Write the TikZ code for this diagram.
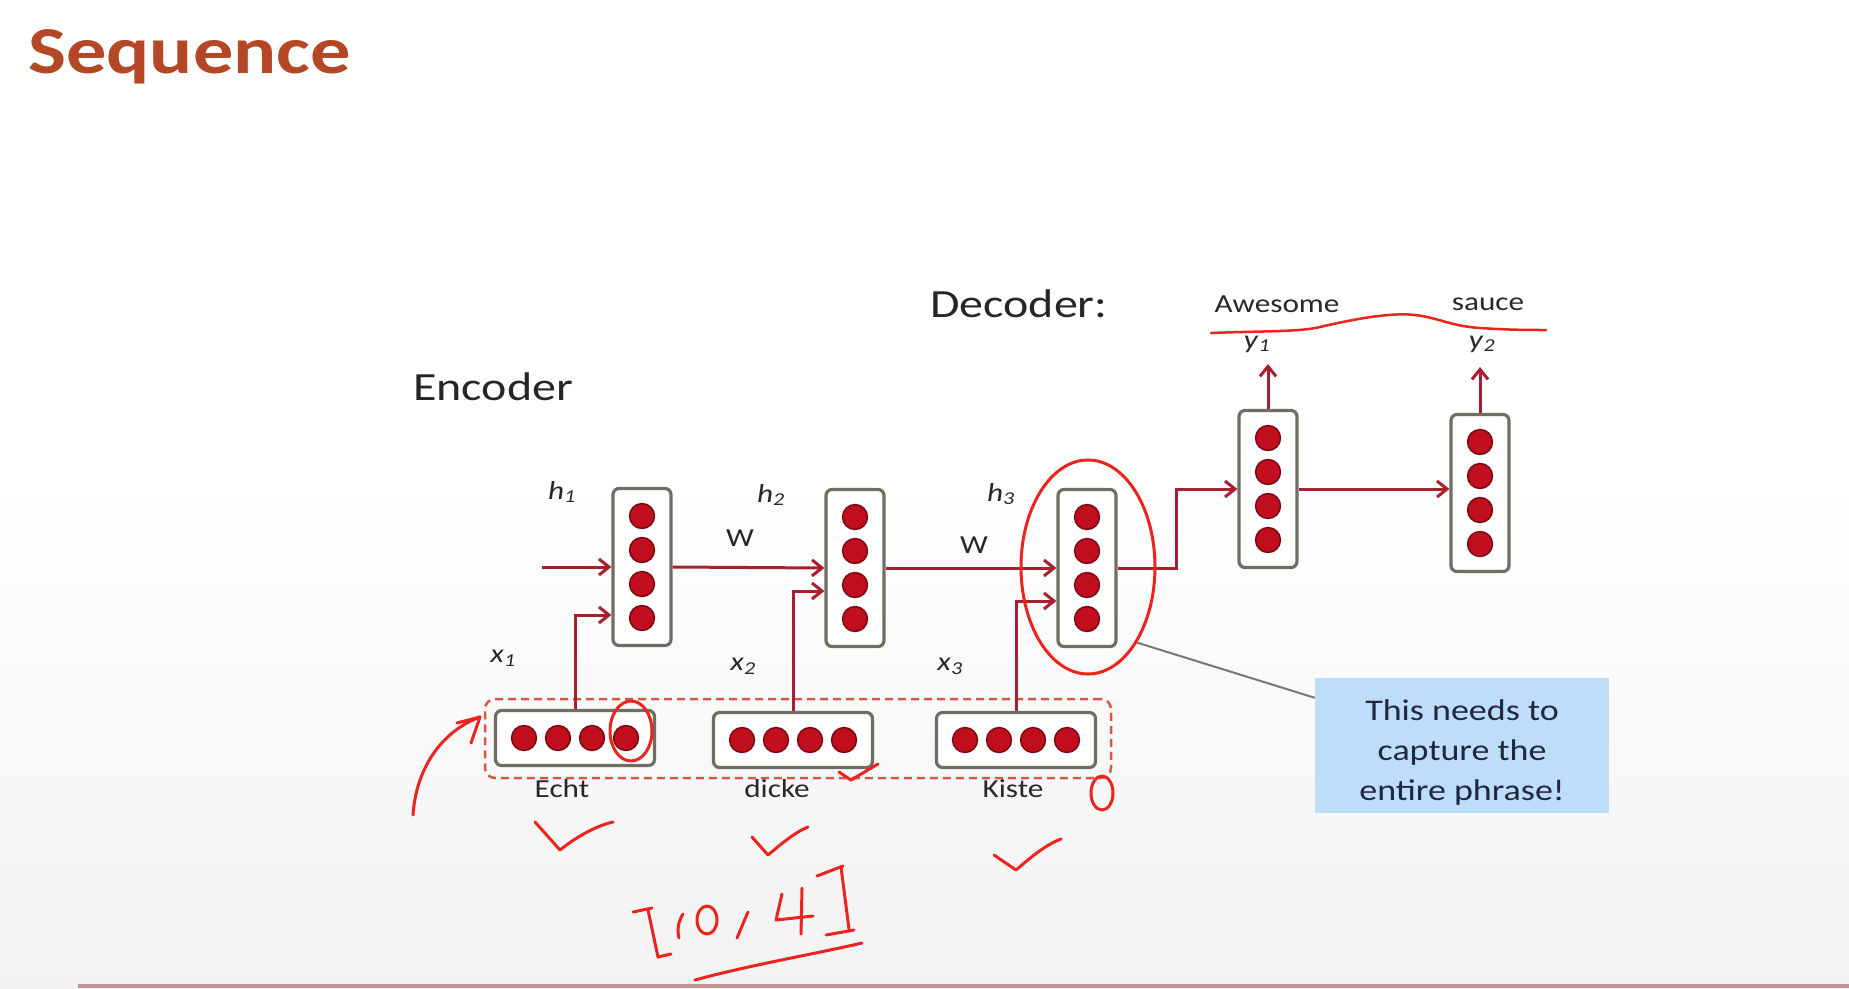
\documentclass[tikz,border=0pt]{standalone}
\usepackage{fontspec}
\setmainfont{Carlito}[FakeStretch=1.2]
\usetikzlibrary{arrows.meta,calc,shapes.geometric}
\definecolor{titlecol}{RGB}{179,71,38}
\definecolor{boxborder}{RGB}{112,110,98}
\definecolor{dotfill}{RGB}{192,14,30}
\definecolor{dotdraw}{RGB}{115,10,18}
\definecolor{arrowcol}{RGB}{168,32,46}
\definecolor{inkred}{RGB}{236,36,30}
\definecolor{callfill}{RGB}{190,221,250}
\definecolor{calltext}{RGB}{30,40,62}
\definecolor{labelcol}{RGB}{40,40,40}
\definecolor{dashcol}{RGB}{215,88,72}
\definecolor{bottomcol}{RGB}{190,150,145}
\definecolor{leadcol}{RGB}{120,120,120}
\tikzset{
  x=1pt, y=-1pt,
  cellbox/.style={draw=boxborder, line width=3.2pt, fill=white, rounded corners=6pt, inner sep=0pt},
  dot/.style={fill=dotfill, draw=dotdraw, line width=1.4pt},
  arr/.style={draw=arrowcol, line width=3pt, -{Straight Barb[length=10pt,width=16pt]}},
  lbl/.style={font=\fontsize{26}{30}\selectfont, text=labelcol, inner sep=0pt},
  head/.style={font=\fontsize{40}{48}\selectfont, text=black!85, inner sep=0pt, anchor=base west},
  ink/.style={draw=inkred, line width=3pt, line cap=round, line join=round},
  dashedbox/.style={draw=dashcol, line width=2.5pt, dash pattern=on 8pt off 5pt, rounded corners=10pt, inner sep=0pt},
}
\newcommand\vcell[3]{%
  \node[cellbox, minimum width=58pt, minimum height=157pt] (#1) at (#2,#3) {};
  \foreach \k in {-51,-17,17,51} \path[dot] ($(#1.center)+(0,\k)$) circle[radius=12.5pt];
}
\newcommand\hcell[3]{%
  \node[cellbox, minimum width=159pt, minimum height=55pt] (#1) at (#2,#3) {};
  \foreach \k in {-51,-17,17,51} \path[dot] ($(#1.center)+(\k,0)$) circle[radius=12.5pt];
}
\begin{document}
\begin{tikzpicture}
\useasboundingbox (0,0) rectangle (1849,988);
\fill[white] (0,0) rectangle (1849,988);
\shade[top color=white, bottom color=black!5] (0,480) rectangle (1849,988);
\fill[bottomcol] (78,984) rectangle (1849,988);

% title
\node[anchor=base west, inner sep=0pt, text=titlecol, font=\fontsize{67}{72}\selectfont\bfseries] (title) at (28,73) {Sequence};

% headings
\node[head] (enc) at (413,400) {Encoder};
\node[head] (dec) at (930,317) {Decoder:};

% dashed group
\node[dashedbox, minimum width=626pt, minimum height=79pt] (grp) at (798,738.5) {};

% cells
\vcell{H1}{642}{567}
\vcell{H2}{855}{568}
\vcell{H3}{1087}{568}
\vcell{D1}{1268}{489}
\vcell{D2}{1480}{493}
\hcell{E1}{575}{738}
\hcell{E2}{793}{740}
\hcell{E3}{1016}{740}

% connectors
\coordinate (in) at (542,567);
\draw[arr] (in) -- (H1.west);
\draw[arr] (H1.east) -- (H2.west);
\draw[arr] (H2.east) -- (H3.west);
\draw[arr] (H3.east) -- ++(59,0) |- (D1.west);
\draw[arr] (D1.east) -- (D1.east -| D2.west);
\coordinate (y1tip) at (1268,364);
\coordinate (y2tip) at (1480,367);
\draw[arr] (D1.north) -- (y1tip);
\draw[arr] (D2.north) -- (y2tip);
\draw[arr] (E1.north) |- ($(H1.west)+(0,48)$);
\draw[arr] (E2.north) |- ($(H2.west)+(0,23)$);
\draw[arr] (E3.north) |- ($(H3.west)+(0,33)$);

% labels
\node[lbl] (h1) at (562,492) {\textit{h}\textsubscript{\textit{1}}};
\node[lbl] (h2) at (771,495) {\textit{h}\textsubscript{\textit{2}}};
\node[lbl] (h3) at (1001,494) {\textit{h}\textsubscript{\textit{3}}};
\node[lbl] (w1) at (740,538) {W};
\node[lbl] (w2) at (974,545) {W};
\node[lbl] (x1) at (503,658) {\textit{x}\textsubscript{\textit{1}}};
\node[lbl] (x2) at (743,666) {\textit{x}\textsubscript{\textit{2}}};
\node[lbl] (x3) at (950,666) {\textit{x}\textsubscript{\textit{3}}};
\node[lbl] (y1) at (1257,344) {\textit{y}\textsubscript{\textit{1}}};
\node[lbl] (y2) at (1482,344) {\textit{y}\textsubscript{\textit{2}}};
\node[lbl] (aw) at (1277,304) {Awesome};
\node[lbl] (sa) at (1488,304) {sauce};
\node[lbl] (w-echt) at (562,789) {Echt};
\node[lbl] (w-dicke) at (777,789) {dicke};
\node[lbl] (w-kiste) at (1013,789) {Kiste};

% callout
\node[fill=callfill, minimum width=294pt, minimum height=135pt, inner sep=0pt] (call) at (1462,745.5) {};
\node[text=calltext, align=center, font=\fontsize{30}{40}\selectfont, inner sep=0pt] (calltxt) at (1462,752) {This needs to\\capture the\\entire phrase!};

% red ink annotations
\node[ellipse, draw=inkred, line width=3pt, minimum width=134pt, minimum height=214pt, inner sep=0pt] (ell) at (1088,567) {};
\draw[leadcol, line width=2pt] (ell.-57) -- ($(call.north west)+(0,20)$);
\draw[ink] (631,731) ellipse [x radius=21pt, y radius=30pt];
\draw[ink] (413,815) .. controls (416,770) and (440,732) .. (480,717);
\draw[ink] (457,723) -- (480,717) -- (471,743);
\draw[ink] (839,772) -- (851,780) -- (878,764);
\draw[ink] (1102,793) ellipse [x radius=11pt, y radius=17pt];
\draw[ink] (535,822) -- (560,850) .. controls (575,838) and (595,826) .. (613,822);
\draw[ink] (752,837) -- (768,855) .. controls (780,845) and (795,832) .. (808,827);
\draw[ink] (994,855) -- (1016,870) .. controls (1030,858) and (1045,845) .. (1061,839);
% [10, 4]
\draw[ink] (633,912) -- (652,908);
\draw[ink] (648,910) -- (658,957) -- (671,954);
\draw[ink] (683,914) .. controls (678,922) and (677,930) .. (679,938);
\draw[ink] (707,920) ellipse [x radius=10pt, y radius=14pt];
\draw[ink] (748,912) -- (737,938);
\draw[ink] (782,894) -- (776,920) -- (813,916);
\draw[ink] (802,888) -- (801,934);
\draw[ink] (817,876) -- (843,866);
\draw[ink] (841,867) -- (849,929);
\draw[ink] (826,935) -- (854,930);
\draw[ink] (695,980) .. controls (750,965) and (810,955) .. (862,943);
% underline Awesome sauce
\draw[ink, line width=2.5pt] (1211,333) .. controls (1260,331) and (1300,332) .. (1320,327)
  .. controls (1350,320) and (1390,312) .. (1415,315)
  .. controls (1440,318) and (1450,326) .. (1480,328)
  .. controls (1510,330) and (1530,330) .. (1546,330);
\end{tikzpicture}
\end{document}
